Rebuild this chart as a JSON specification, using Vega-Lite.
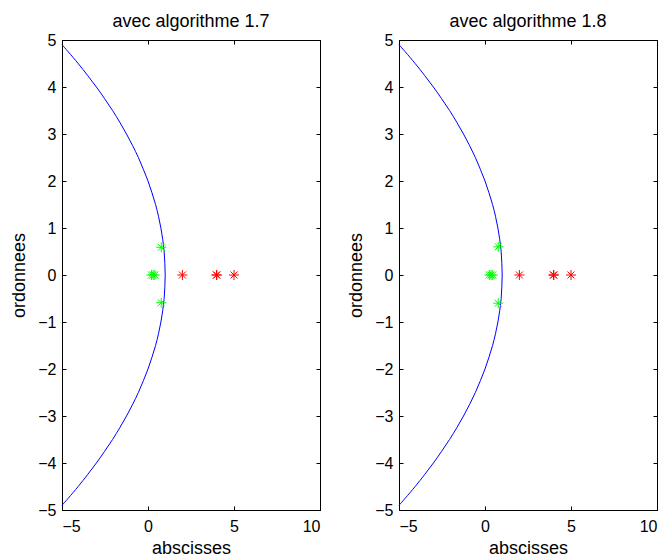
{
  "$schema": "https://vega.github.io/schema/vega-lite/v6.json",
  "padding": {"left": 10, "top": 12, "right": 5, "bottom": 0},
  "config": {
    "font": "Liberation Sans",
    "view": {"stroke": "black", "strokeWidth": 1},
    "axis": {
      "domainColor": "black", "tickColor": "black", "labelColor": "black", "titleColor": "black",
      "grid": false, "labelFontSize": 16, "titleFontSize": 18, "titleFontWeight": "normal",
      "tickSize": -4
    },
    "axisX": {"labelPadding": 12, "titlePadding": 5},
    "axisY": {"labelPadding": 10, "titlePadding": 9},
    "title": {"fontSize": 18, "fontWeight": "normal", "color": "black", "offset": 1, "anchor": "middle", "frame": "group"},
    "concat": {"spacing": 26}
  },
  "datasets": {
    "courbe": [
      {"x": -5.0, "y": 4.9}, {"x": -4.64, "y": 4.75}, {"x": -4.06, "y": 4.5}, {"x": -3.52, "y": 4.25},
      {"x": -3.0, "y": 4.0}, {"x": -2.52, "y": 3.75}, {"x": -2.06, "y": 3.5}, {"x": -1.64, "y": 3.25},
      {"x": -1.25, "y": 3.0}, {"x": -0.89, "y": 2.75}, {"x": -0.56, "y": 2.5}, {"x": -0.27, "y": 2.25},
      {"x": 0.0, "y": 2.0}, {"x": 0.23, "y": 1.75}, {"x": 0.44, "y": 1.5}, {"x": 0.61, "y": 1.25},
      {"x": 0.75, "y": 1.0}, {"x": 0.86, "y": 0.75}, {"x": 0.94, "y": 0.5}, {"x": 0.98, "y": 0.25},
      {"x": 1.0, "y": 0.0},
      {"x": 0.98, "y": -0.25}, {"x": 0.94, "y": -0.5}, {"x": 0.86, "y": -0.75}, {"x": 0.75, "y": -1.0},
      {"x": 0.61, "y": -1.25}, {"x": 0.44, "y": -1.5}, {"x": 0.23, "y": -1.75}, {"x": 0.0, "y": -2.0},
      {"x": -0.27, "y": -2.25}, {"x": -0.56, "y": -2.5}, {"x": -0.89, "y": -2.75}, {"x": -1.25, "y": -3.0},
      {"x": -1.64, "y": -3.25}, {"x": -2.06, "y": -3.5}, {"x": -2.52, "y": -3.75}, {"x": -3.0, "y": -4.0},
      {"x": -3.52, "y": -4.25}, {"x": -4.06, "y": -4.5}, {"x": -4.64, "y": -4.75}, {"x": -5.0, "y": -4.9}
    ],
    "points17": [
      {"x": 0.77, "y": 0.59, "groupe": "vert"}, {"x": 0.77, "y": -0.59, "groupe": "vert"},
      {"x": 0.2, "y": 0, "groupe": "vert"}, {"x": 0.3, "y": 0, "groupe": "vert"}, {"x": 0.4, "y": 0, "groupe": "vert"},
      {"x": 2.0, "y": 0, "groupe": "rouge"}, {"x": 3.98, "y": 0, "groupe": "rouge"}, {"x": 4.0, "y": 0, "groupe": "rouge"},
      {"x": 5.0, "y": 0, "groupe": "rouge"}
    ],
    "points18": [
      {"x": 0.77, "y": 0.6, "groupe": "vert"}, {"x": 0.77, "y": -0.6, "groupe": "vert"},
      {"x": 0.25, "y": 0, "groupe": "vert"}, {"x": 0.35, "y": 0, "groupe": "vert"}, {"x": 0.45, "y": 0, "groupe": "vert"},
      {"x": 2.0, "y": 0, "groupe": "rouge"}, {"x": 3.98, "y": 0, "groupe": "rouge"}, {"x": 4.0, "y": 0, "groupe": "rouge"},
      {"x": 5.0, "y": 0, "groupe": "rouge"}
    ]
  },
  "hconcat": [
    {
      "width": 258, "height": 470,
      "title": "avec algorithme 1.7",
      "layer": [
        {
          "data": {"name": "courbe"},
          "mark": {"type": "line", "color": "#0000ff", "strokeWidth": 1, "interpolate": "natural"},
          "encoding": {
            "x": {"field": "x", "type": "quantitative", "scale": {"domain": [-5, 10], "nice": false, "zero": false},
                  "axis": {"orient": "bottom", "title": "abscisses", "values": [-5, 0, 5, 10]}},
            "y": {"field": "y", "type": "quantitative", "scale": {"domain": [-5, 5], "nice": false, "zero": false},
                  "axis": {"orient": "left", "title": "ordonnees", "values": [-5, -4, -3, -2, -1, 0, 1, 2, 3, 4, 5]}},
            "order": {"field": "y", "type": "quantitative"}
          }
        },
        {
          "data": {"name": "points17"},
          "mark": {"type": "point", "shape": "M-1,0H1M0,-1V1M-0.7,-0.7L0.7,0.7M-0.7,0.7L0.7,-0.7", "filled": false, "size": 100, "strokeWidth": 1, "opacity": 1},
          "encoding": {
            "x": {"field": "x", "type": "quantitative", "scale": {"domain": [-5, 10], "nice": false, "zero": false},
                  "axis": {"orient": "top", "title": null, "labels": false, "values": [-5, 0, 5, 10]}},
            "y": {"field": "y", "type": "quantitative", "scale": {"domain": [-5, 5], "nice": false, "zero": false},
                  "axis": {"orient": "right", "title": null, "labels": false, "values": [-5, -4, -3, -2, -1, 0, 1, 2, 3, 4, 5]}},
            "color": {"field": "groupe", "type": "nominal", "scale": {"domain": ["vert", "rouge"], "range": ["#00ff00", "#ff0000"]}, "legend": null}
          }
        }
      ]
    },
    {
      "width": 258, "height": 470,
      "title": "avec algorithme 1.8",
      "layer": [
        {
          "data": {"name": "courbe"},
          "mark": {"type": "line", "color": "#0000ff", "strokeWidth": 1, "interpolate": "natural"},
          "encoding": {
            "x": {"field": "x", "type": "quantitative", "scale": {"domain": [-5, 10], "nice": false, "zero": false},
                  "axis": {"orient": "bottom", "title": "abscisses", "values": [-5, 0, 5, 10]}},
            "y": {"field": "y", "type": "quantitative", "scale": {"domain": [-5, 5], "nice": false, "zero": false},
                  "axis": {"orient": "left", "title": "ordonnees", "values": [-5, -4, -3, -2, -1, 0, 1, 2, 3, 4, 5]}},
            "order": {"field": "y", "type": "quantitative"}
          }
        },
        {
          "data": {"name": "points18"},
          "mark": {"type": "point", "shape": "M-1,0H1M0,-1V1M-0.7,-0.7L0.7,0.7M-0.7,0.7L0.7,-0.7", "filled": false, "size": 100, "strokeWidth": 1, "opacity": 1},
          "encoding": {
            "x": {"field": "x", "type": "quantitative", "scale": {"domain": [-5, 10], "nice": false, "zero": false},
                  "axis": {"orient": "top", "title": null, "labels": false, "values": [-5, 0, 5, 10]}},
            "y": {"field": "y", "type": "quantitative", "scale": {"domain": [-5, 5], "nice": false, "zero": false},
                  "axis": {"orient": "right", "title": null, "labels": false, "values": [-5, -4, -3, -2, -1, 0, 1, 2, 3, 4, 5]}},
            "color": {"field": "groupe", "type": "nominal", "scale": {"domain": ["vert", "rouge"], "range": ["#00ff00", "#ff0000"]}, "legend": null}
          }
        }
      ]
    }
  ]
}
